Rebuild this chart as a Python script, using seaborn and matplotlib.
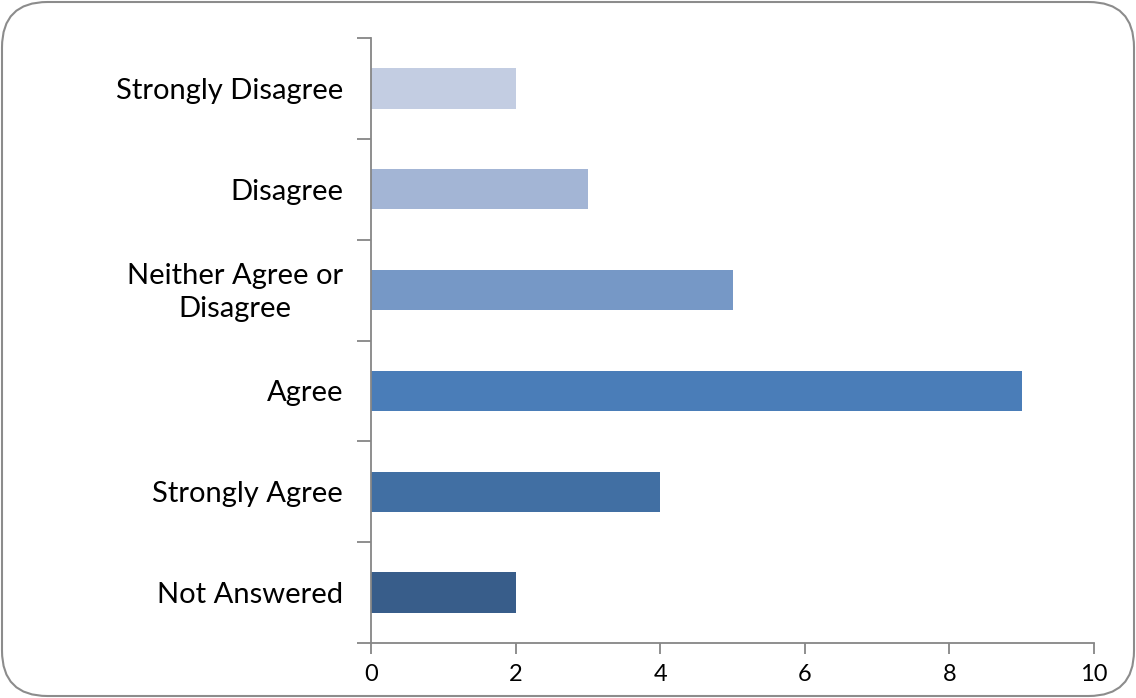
import matplotlib
matplotlib.use("Agg")
import matplotlib.pyplot as plt
from matplotlib.patches import FancyBboxPatch
from matplotlib.transforms import ScaledTranslation
import seaborn as sns
import pandas as pd
import numpy as np

categories = ["Strongly Disagree", "Disagree", "Neither Agree or\nDisagree",
              "Agree", "Strongly Agree", "Not Answered"]
values = [2, 3, 5, 9, 4, 2]
colors = ["#C3CDE2", "#A3B5D5", "#7698C6", "#4A7DB8", "#416FA3", "#385D8A"]
xticks = [0, 2, 4, 6, 8, 10]

sns.set_theme(style="white")
plt.rcParams["font.family"] = ["Lato", "DejaVu Sans"]

df = pd.DataFrame({"category": categories, "value": values})

fig = plt.figure(figsize=(11.36, 6.98), dpi=100)
ax = fig.add_axes([371/1136, 1-643/698, (1094-371)/1136, (643-38)/698])

sns.barplot(data=df, y="category", x="value", hue="category", palette=colors,
            order=categories, hue_order=categories, orient="h", width=0.4,
            legend=False, ax=ax, saturation=1, linewidth=0, edgecolor="none")

ax.set_xlim(0, 10)
ax.set_ylim(len(categories) - 0.5, -0.5)
ax.set_xticks(xticks)
ax.set_xticklabels([str(t) for t in xticks])
ax.set_xlabel("")
ax.set_ylabel("")

spine_c = "#868686"
for s in ["top", "right"]:
    ax.spines[s].set_visible(False)
for s in ["left", "bottom"]:
    ax.spines[s].set_color(spine_c)
    ax.spines[s].set_linewidth(1.3)

ax.set_yticks(range(len(categories)))
ax.set_yticklabels(categories, fontsize=21, color="black", linespacing=1.35)
ax.set_yticks(np.arange(-0.5, len(categories), 1.0), minor=True)
ax.tick_params(axis="y", which="major", length=0, pad=20)
ax.tick_params(axis="y", which="minor", length=10, width=1.3, color=spine_c, direction="out", left=True)
ax.tick_params(axis="x", which="major", length=8, width=1.3, color=spine_c, direction="out",
               bottom=True, labelsize=17, labelcolor="black", pad=7)
for lab in ax.get_yticklabels():
    lab.set_horizontalalignment("right")
    lab.set_multialignment("center")
    if "\n" in lab.get_text():
        lab.set_transform(lab.get_transform() + ScaledTranslation(0, 4/100, fig.dpi_scale_trans))

border = FancyBboxPatch((2/1136, 2/698), 1 - 4/1136, 1 - 4/698,
                        boxstyle="round,pad=0,rounding_size=0.04",
                        transform=fig.transFigure, facecolor="none",
                        edgecolor="#8C8C8C", linewidth=1.5,
                        mutation_aspect=1136/698)
fig.patches.append(border)

fig.savefig("out.png", dpi=100)
